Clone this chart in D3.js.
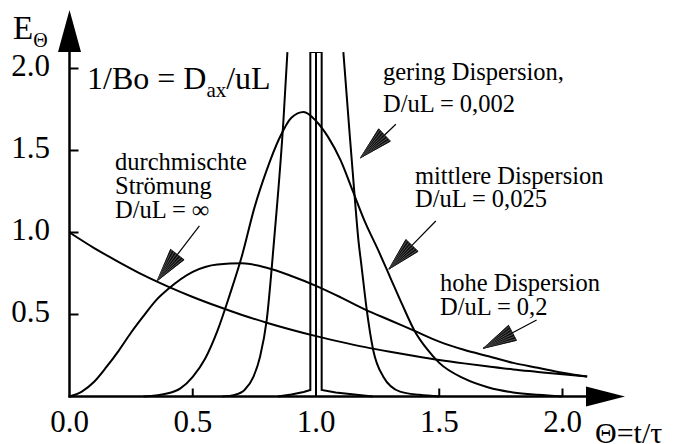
<!DOCTYPE html>
<html>
<head>
<meta charset="utf-8">
<script src="https://cdn.jsdelivr.net/npm/d3@7"></script>
<style>
  html, body { margin: 0; padding: 0; background: #fff; }
  svg { display: block; }
</style>
</head>
<body>
<svg id="chart" width="680" height="444"></svg>
<script>
// Residence time distributions E(Θ) of the dispersion model
const thetaTicks = [0.0, 0.5, 1.0, 1.5, 2.0];
const eTicks = [0.5, 1.0, 1.5, 2.0];
const tickLabelsX = ["0.0", "0.5", "1.0", "1.5", "2.0"];
const tickLabelsY = ["0.5", "1.0", "1.5", "2.0"];

// durchmischte Strömung, D/uL = ∞
const mixedTheta = [0, 0.1, 0.2, 0.3, 0.4, 0.5, 0.6, 0.7, 0.8, 0.9, 1.0, 1.1, 1.2, 1.3, 1.4, 1.5, 1.6, 1.7, 1.8, 1.9, 2.0, 2.1];
const mixedE     = [1.0, 0.905, 0.82, 0.74, 0.67, 0.607, 0.55, 0.497, 0.45, 0.407, 0.368, 0.333, 0.301, 0.273, 0.247, 0.223, 0.202, 0.183, 0.165, 0.15, 0.135, 0.122];

// hohe Dispersion, D/uL = 0,2
const highTheta = [0, 0.05, 0.1, 0.15, 0.2, 0.25, 0.3, 0.35, 0.4, 0.5, 0.6, 0.7, 0.8, 0.9, 1.0, 1.1, 1.2, 1.3, 1.4, 1.5, 1.6, 1.7, 1.8, 1.9, 2.0, 2.1];
const highE     = [0, 0.03, 0.09, 0.18, 0.28, 0.39, 0.49, 0.585, 0.655, 0.76, 0.805, 0.812, 0.785, 0.735, 0.675, 0.605, 0.53, 0.465, 0.40, 0.335, 0.285, 0.245, 0.205, 0.175, 0.145, 0.122];

// mittlere Dispersion, D/uL = 0,025
const midTheta = [0.3, 0.4, 0.45, 0.5, 0.55, 0.6, 0.65, 0.7, 0.75, 0.8, 0.85, 0.9, 0.95, 1.0, 1.05, 1.1, 1.15, 1.2, 1.25, 1.3, 1.35, 1.4, 1.45, 1.5, 1.6, 1.7, 1.8, 1.9, 2.0];
const midE     = [0, 0.02, 0.05, 0.12, 0.23, 0.40, 0.62, 0.86, 1.15, 1.38, 1.57, 1.70, 1.735, 1.68, 1.58, 1.44, 1.25, 1.06, 0.90, 0.73, 0.56, 0.40, 0.29, 0.205, 0.11, 0.055, 0.025, 0.01, 0];

// gering Dispersion, D/uL = 0,002 (peak lies above the drawn range)
const lowTheta = [0.62, 0.67, 0.71, 0.746, 0.773, 0.80, 0.83, 0.868, 0.884, 1.0, 1.111, 1.135, 1.158, 1.172, 1.185, 1.206, 1.232, 1.273, 1.341, 1.42, 1.5];
const lowE     = [0, 0.01, 0.04, 0.12, 0.243, 0.466, 0.954, 1.686, 2.1, null, 2.1, 1.63, 1.198, 0.954, 0.791, 0.527, 0.284, 0.121, 0.03, 0.01, 0];

// near plug flow: very narrow peak around Θ = 1
const narrowTheta = [0.845, 0.9, 0.95, 0.977, 0.977, 1.023, 1.023, 1.08, 1.165, 1.23];
const narrowE     = [0, 0.012, 0.028, 0.04, 2.1, 2.1, 0.04, 0.025, 0.01, 0];

// ideal plug flow at Θ = 1
const plugTheta = [1.0, 1.0];
const plugE     = [0, 2.1];

const notes = [
  { lines: ["gering Dispersion,", "D/uL = 0,002"] },
  { lines: ["mittlere Dispersion", "D/uL = 0,025"] },
  { lines: ["durchmischte", "Strömung", "D/uL = ∞"] },
  { lines: ["hohe Dispersion", "D/uL = 0,2"] }
];

const FONT = '"Liberation Serif"';
const K = 2; // text is set at half size and magnified, which keeps the serif face
const svg = d3.select("#chart");
const x = d3.scaleLinear().domain([0, 2]).range([69.5, 562.5]);
const y = d3.scaleLinear().domain([0, 2]).range([396.5, 68.5]);

const zip = (ts, es) => ts.map((t, i) => ({ t, e: es[i] }));

// a text block anchored at (px, py), drawn at the given size
function label(px, py, size, anchor = "start") {
  return svg.append("g")
    .attr("transform", `translate(${px},${py}) scale(${K})`)
    .append("text")
    .attr("font-size", size / K)
    .attr("text-anchor", anchor)
    .style("font-family", FONT);
}

// clip the curves at the top of the drawing range
svg.append("clipPath").attr("id", "plot")
  .append("rect")
  .attr("x", x(0)).attr("y", y(2.1))
  .attr("width", x(2.1) - x(0) + 2).attr("height", y(0) - y(2.1) + 2);

const curveLine = d3.line()
  .defined(d => d.e !== null)
  .x(d => x(d.t)).y(d => y(d.e))
  .curve(d3.curveMonotoneX);
const straightLine = d3.line().x(d => x(d.t)).y(d => y(d.e));

const g = svg.append("g").attr("clip-path", "url(#plot)")
  .attr("fill", "none").attr("stroke", "#000").attr("stroke-width", 2)
  .attr("stroke-linejoin", "round");

g.append("path").attr("d", curveLine(zip(mixedTheta, mixedE)));
g.append("path").attr("d", curveLine(zip(highTheta, highE)));
g.append("path").attr("d", curveLine(zip(midTheta, midE)));
g.append("path").attr("d", curveLine(zip(lowTheta, lowE)));
g.append("path").attr("d", straightLine(zip(narrowTheta, narrowE))).attr("stroke-linejoin", "miter");
g.append("path").attr("d", straightLine(zip(plugTheta, plugE)));

// axes with arrow heads
const axisG = svg.append("g");
axisG.append("line")
  .attr("x1", x(0)).attr("y1", y(0) + 1).attr("x2", x(0)).attr("y2", 50)
  .attr("stroke", "#000").attr("stroke-width", 2.5);
axisG.append("line")
  .attr("x1", x(0) - 1).attr("y1", y(0)).attr("x2", 588).attr("y2", y(0))
  .attr("stroke", "#000").attr("stroke-width", 2.5);
axisG.append("path")
  .attr("d", `M${x(0) - 11.5},52 L${x(0)},10 L${x(0) + 11.5},52 Z`)
  .attr("fill", "#000");
axisG.append("path")
  .attr("d", `M586,${y(0) - 10} L625,${y(0)} L586,${y(0) + 10} Z`)
  .attr("fill", "#000");

// ticks pointing into the plot
axisG.selectAll(".xt").data(thetaTicks.filter(v => v > 0)).join("line")
  .attr("x1", d => x(d)).attr("x2", d => x(d))
  .attr("y1", y(0)).attr("y2", y(0) - 8)
  .attr("stroke", "#000").attr("stroke-width", 2);
axisG.selectAll(".yt").data(eTicks).join("line")
  .attr("x1", x(0)).attr("x2", x(0) + 9)
  .attr("y1", d => y(d)).attr("y2", d => y(d))
  .attr("stroke", "#000").attr("stroke-width", 2);

thetaTicks.forEach((v, i) => label(x(v), 431.5, 31, "middle").text(tickLabelsX[i]));
eTicks.forEach((v, i) => label(50, y(v) + 7, 31, "end").text(tickLabelsY[i]));

// axis titles
const eT = label(13, 38.5, 33);
eT.append("tspan").text("E");
eT.append("tspan").attr("font-size", 20 / K).attr("dy", 8 / K).text("Θ");

label(595, 443, 30).text("Θ=t/τ");

const bo = label(87, 88.5, 32);
bo.append("tspan").text("1/Bo = D");
bo.append("tspan").attr("font-size", 21 / K).attr("dy", 8 / K).text("ax");
bo.append("tspan").attr("dy", -8 / K).text("/uL");

// annotation labels
const noteAt = [
  { x: 383, y: 80, lh: 31.7 },
  { x: 415, y: 183.5, lh: 23.5 },
  { x: 115, y: 170, lh: 24.2 },
  { x: 440, y: 290.5, lh: 24.5 }
];
notes.forEach((n, i) => {
  const p = noteAt[i];
  const t = label(p.x, p.y, 24.5);
  n.lines.forEach((s, j) => {
    t.append("tspan").attr("x", 0).attr("y", j * p.lh / K).text(s);
  });
});

// hatched cone arrows pointing at the curves
const arrows = [
  { from: [1.324, 1.66], to: [1.181, 1.456] },
  { from: [1.486, 1.07], to: [1.296, 0.777] },
  { from: [0.527, 1.041], to: [0.356, 0.706] },
  { from: [1.895, 0.466], to: [1.679, 0.294] }
];
arrows.forEach(a => {
  const x1 = x(a.from[0]), y1 = y(a.from[1]);
  const x2 = x(a.to[0]), y2 = y(a.to[1]);
  const dx = x2 - x1, dy = y2 - y1, len = Math.hypot(dx, dy);
  const ux = dx / len, uy = dy / len;
  const headLen = 33, half = 8.5;
  const bx = x2 - ux * headLen, by = y2 - uy * headLen;
  svg.append("line").attr("x1", x1).attr("y1", y1).attr("x2", bx).attr("y2", by)
    .attr("stroke", "#000").attr("stroke-width", 1.2);
  const pL = [bx - uy * half, by + ux * half];
  const pR = [bx + uy * half, by - ux * half];
  svg.append("path")
    .attr("d", `M${pL[0]},${pL[1]} L${x2},${y2} L${pR[0]},${pR[1]} Z`)
    .attr("fill", "#1a1a1a").attr("stroke", "#000").attr("stroke-width", 0.8);
  const hatch = d3.range(0, 1.0001, 1 / 12);
  svg.append("g").selectAll("line").data(hatch).join("line")
    .attr("x1", x2).attr("y1", y2)
    .attr("x2", f => pL[0] + (pR[0] - pL[0]) * f)
    .attr("y2", f => pL[1] + (pR[1] - pL[1]) * f)
    .attr("stroke", (f, i) => i % 2 ? "#777" : "#000").attr("stroke-width", 0.6);
});
</script>
</body>
</html>
